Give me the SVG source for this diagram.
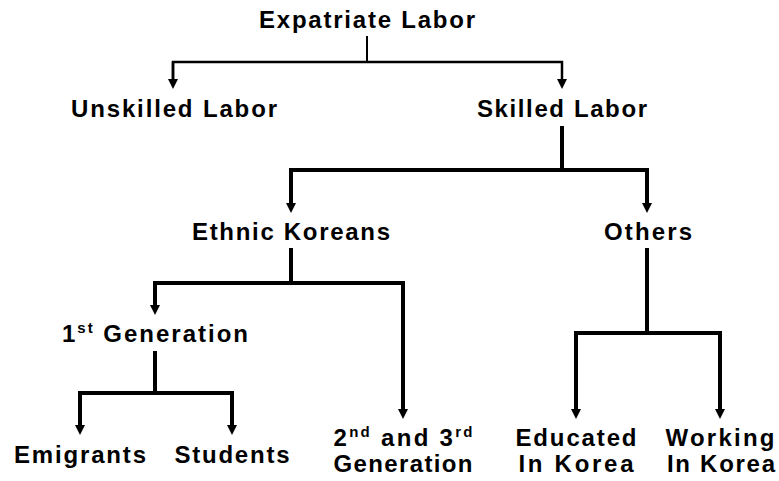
<svg xmlns="http://www.w3.org/2000/svg" width="779" height="481" viewBox="0 0 779 481">
<style>
text{font-family:"Liberation Sans",Arial,sans-serif;font-weight:bold;font-size:24px;fill:#000;text-anchor:middle}
.sup{font-size:15px}
.ln{fill:none;stroke:#000;stroke-width:4;stroke-linecap:square}
.thin{stroke-width:2.5}
</style>
<defs>
<marker id="ah" viewBox="0 0 10 10" refX="0" refY="5" markerWidth="10" markerHeight="10" markerUnits="userSpaceOnUse" orient="auto">
<path d="M0,0 L10,5 L0,10 z" fill="#000"/>
</marker>
</defs>
<rect width="779" height="481" fill="#fff"/>
<g id="connectors">
<path class="ln thin" d="M367,37 V62" style="stroke-width:2"/>
<path class="ln thin" d="M173,79 V62 H562 V79" style="stroke-linecap:butt" marker-end="url(#ah)"/>
<path class="ln thin" d="M173,62 V79" style="stroke-linecap:butt" marker-end="url(#ah)"/>
<path class="ln" d="M562,128 V170"/>
<path class="ln" d="M291,170 H647" style="stroke-linecap:square"/>
<path class="ln" d="M291,170 V203" style="stroke-linecap:butt" marker-end="url(#ah)"/>
<path class="ln" d="M647,170 V203" style="stroke-linecap:butt" marker-end="url(#ah)"/>
<path class="ln" d="M291,250 V283"/>
<path class="ln" d="M155,283 H403"/>
<path class="ln" d="M155,283 V305" style="stroke-linecap:butt" marker-end="url(#ah)"/>
<path class="ln" d="M403,283 V409" style="stroke-linecap:butt" marker-end="url(#ah)"/>
<path class="ln" d="M155,353 V393"/>
<path class="ln" d="M80,393 H232"/>
<path class="ln" d="M80,393 V425" style="stroke-linecap:butt" marker-end="url(#ah)"/>
<path class="ln" d="M232,393 V425" style="stroke-linecap:butt" marker-end="url(#ah)"/>
<path class="ln" d="M647,250 V333"/>
<path class="ln" d="M576,333 H720"/>
<path class="ln" d="M576,333 V409" style="stroke-linecap:butt" marker-end="url(#ah)"/>
<path class="ln" d="M720,333 V409" style="stroke-linecap:butt" marker-end="url(#ah)"/>
</g>
<g id="expatriate"><text x="367" y="28" textLength="216" lengthAdjust="spacing">Expatriate Labor</text></g>
<g id="unskilled"><text x="174" y="117" textLength="206" lengthAdjust="spacing">Unskilled Labor</text></g>
<g id="skilled"><text x="562" y="117" textLength="170" lengthAdjust="spacing">Skilled Labor</text></g>
<g id="ethnic"><text x="291" y="240" textLength="198" lengthAdjust="spacing">Ethnic Koreans</text></g>
<g id="others"><text x="648" y="240" textLength="88" lengthAdjust="spacing">Others</text></g>
<g id="first-gen"><text x="155" y="342" textLength="186" lengthAdjust="spacing">1<tspan class="sup" dy="-9">st</tspan><tspan dy="9"> Generation</tspan></text></g>
<g id="emigrants"><text x="80" y="463" textLength="132" lengthAdjust="spacing">Emigrants</text></g>
<g id="students"><text x="232" y="463" textLength="115" lengthAdjust="spacing">Students</text></g>
<g id="second-third"><text x="403" y="446" textLength="139" lengthAdjust="spacing">2<tspan class="sup" dy="-9">nd</tspan><tspan dy="9"> and 3</tspan><tspan class="sup" dy="-9">rd</tspan></text><text x="403" y="472" textLength="139" lengthAdjust="spacing">Generation</text></g>
<g id="educated"><text x="576" y="446" textLength="121" lengthAdjust="spacing">Educated</text><text x="576" y="472" textLength="115" lengthAdjust="spacing">In Korea</text></g>
<g id="working"><text x="720" y="446" textLength="109" lengthAdjust="spacing">Working</text><text x="721" y="472" textLength="108" lengthAdjust="spacing">In Korea</text></g>
</svg>
